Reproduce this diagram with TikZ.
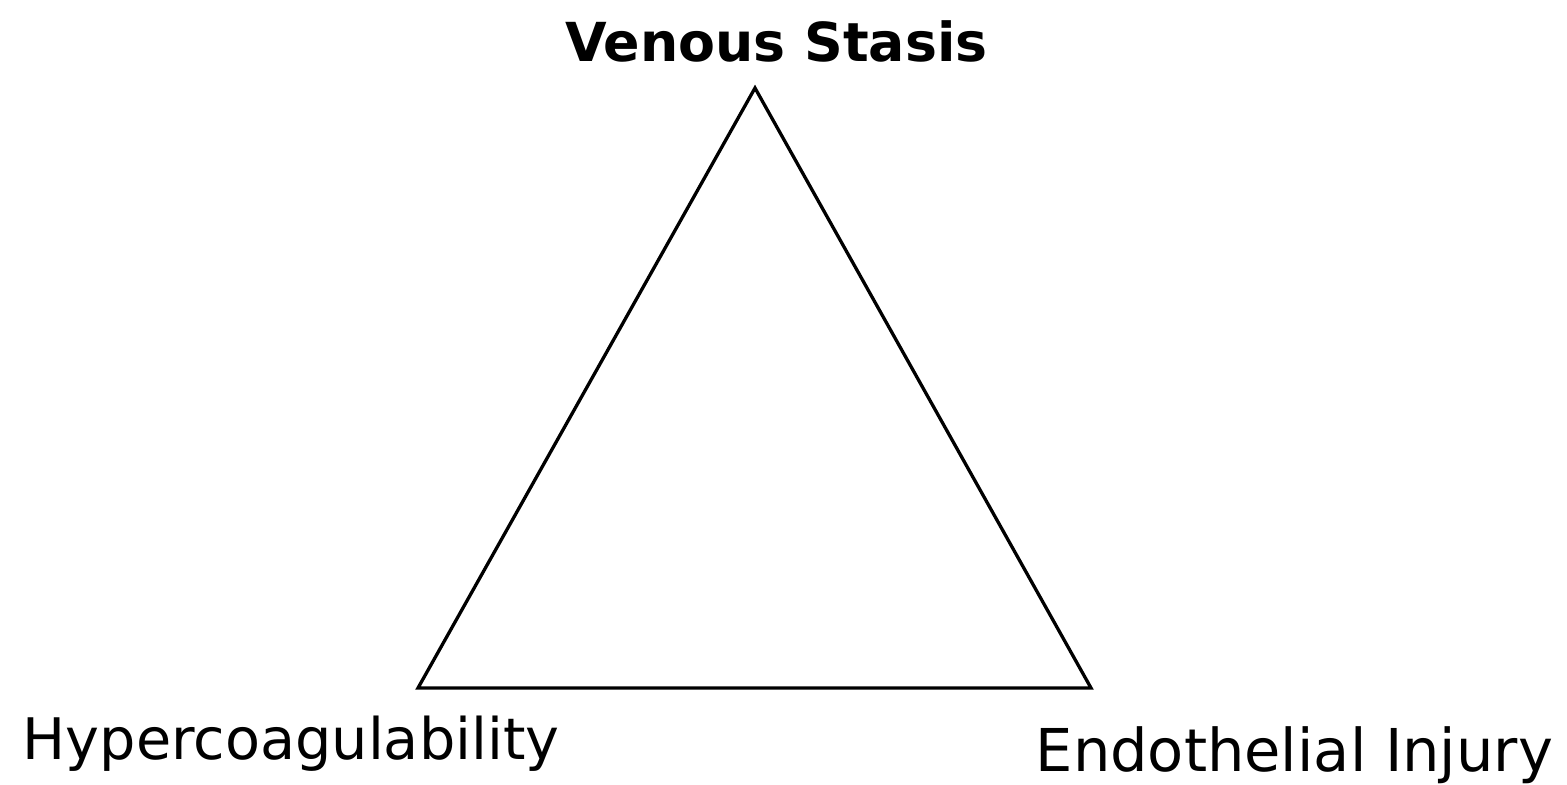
\documentclass[tikz,border=0pt]{standalone}
\usepackage{fontspec}
\setmainfont{DejaVu Sans}
\usetikzlibrary{positioning}

\begin{document}
\begin{tikzpicture}[
    corner_label/.style={inner sep=0pt, font=\fontsize{16.3}{19}\selectfont},
    top_label/.style={inner sep=0pt, font=\fontsize{15.3}{18}\selectfont\bfseries},
    edge/.style={line width=0.033cm, draw=black, line join=miter}
]
    \useasboundingbox (0,0) rectangle (15.67,7.85);

    % Corners of the triad
    \coordinate (apex) at (7.55,6.97);
    \coordinate (left) at (4.18,0.97);
    \coordinate (right) at (10.91,0.97);

    % Labels
    \node (stasis) [top_label, anchor=base] at (7.765,7.23) {Venous Stasis};
    \node (hyper) [corner_label, anchor=base west] at (0.22,0.25) {Hypercoagulability};
    \node (injury) [corner_label, font=\fontsize{16.8}{19}\selectfont, anchor=base west] at (10.35,0.13) {Endothelial Injury};

    % Triangle
    \draw [edge] (apex) -- (right) -- (left) -- cycle;
\end{tikzpicture}
\end{document}
